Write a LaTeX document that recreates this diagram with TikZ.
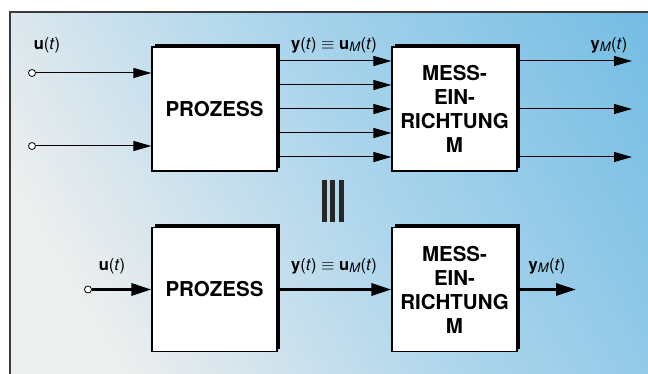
\documentclass[tikz,border=0pt]{standalone}
\usepackage{fontspec}
\setmainfont{TeX Gyre Heros}
\usetikzlibrary{arrows.meta,positioning,calc,shadows}
\definecolor{paper}{HTML}{EDEEEE}
\definecolor{haze}{HTML}{AED6EC}
\definecolor{sky}{HTML}{58B0DF}
\definecolor{rim}{HTML}{3A3A3A}
\pgfdeclarehorizontalshading{backdrop}{100bp}{color(0bp)=(paper); color(25bp)=(paper); color(52bp)=(haze); color(100bp)=(sky)}
\newcommand{\blockbox}[3]{
  \node[block] (#1) at #2 {#3};
}
\newcommand{\sig}[1]{\textbf{#1}(\textit{t})}
\newcommand{\subM}{\raisebox{-0.3ex}{\fontsize{13}{13}\selectfont\textit{M}}}
\tikzset{
  block/.style={draw=black,line width=1.2pt,fill=white,minimum width=125pt,minimum height=124pt,
    align=center,font=\fontsize{20.5}{24}\selectfont\bfseries,
    general shadow={fill=black,shadow xshift=3pt,shadow yshift=3pt}},
  port/.style={circle,draw=black,fill=white,line width=0.8pt,inner sep=0pt,minimum size=7pt},
  lbl/.style={font=\fontsize{16.5}{18}\selectfont,inner sep=1pt},
  thin arrow/.style={-{Triangle[length=18pt,width=10pt]},line width=1pt},
  bold arrow/.style={-{Triangle[length=20pt,width=12pt]},line width=3pt},
}
\begin{document}
\begin{tikzpicture}[x=1pt,y=-1pt]
  \useasboundingbox (0,0) rectangle (648,374);
  \fill[white] (0,0) rectangle (648,374);
  \shade[shading=backdrop,shading angle=30] (10,12) rectangle (648,374);
  \draw[rim,line width=1.5pt] (10,380) -- (10,12) -- (655,12);
  % upper diagram
  \blockbox{P1}{(214.5,109)}{PROZESS}
  \blockbox{M1}{(454.5,109)}{MESS-\\EIN-\\RICHTUNG\\M}
  \node[port] (u1) at (32,73) {};
  \node[port] (u2) at (32,146) {};
  \draw[thin arrow] (u1) -- (u1 -| P1.west);
  \draw[thin arrow] (u2) -- (u2 -| P1.west);
  \foreach \k in {-2,...,2}
    \draw[thin arrow] ([yshift=\k*24pt]P1.east) -- ([yshift=\k*24pt]M1.west);
  \coordinate (o1) at (632,61);
  \coordinate (o2) at (632,109);
  \coordinate (o3) at (632,157);
  \foreach \o in {o1,o2,o3}
    \draw[thin arrow] (\o -| M1.east) -- (\o);
  \node[lbl] (lu1) at (47,45) {\sig{u}};
  \node[lbl] (ly1) at (334,45) {\sig{y} $\equiv$ \textbf{u}\subM(\textit{t})};
  \node[lbl] (lm1) at (609,45) {\textbf{y}\subM(\textit{t})};
  % equivalence sign
  \foreach \bx in {324.5,332.5,341.5}
    \fill[black!85] (\bx-2.5,180) rectangle (\bx+2.5,222);
  % lower diagram
  \blockbox{P2}{(214.5,289.5)}{PROZESS}
  \blockbox{M2}{(454.5,289.5)}{MESS-\\EIN-\\RICHTUNG\\M}
  \node[port] (u3) at (88,289.5) {};
  \coordinate (o4) at (576,289.5);
  \draw[bold arrow] (u3) -- (P2.west);
  \draw[bold arrow] (P2.east) -- (M2.west);
  \draw[bold arrow] (M2.east) -- (o4);
  \node[lbl] (lu2) at (112,266) {\sig{u}};
  \node[lbl] (ly2) at (334,266) {\sig{y} $\equiv$ \textbf{u}\subM(\textit{t})};
  \node[lbl] (lm2) at (547,266) {\textbf{y}\subM(\textit{t})};
\end{tikzpicture}
\end{document}
